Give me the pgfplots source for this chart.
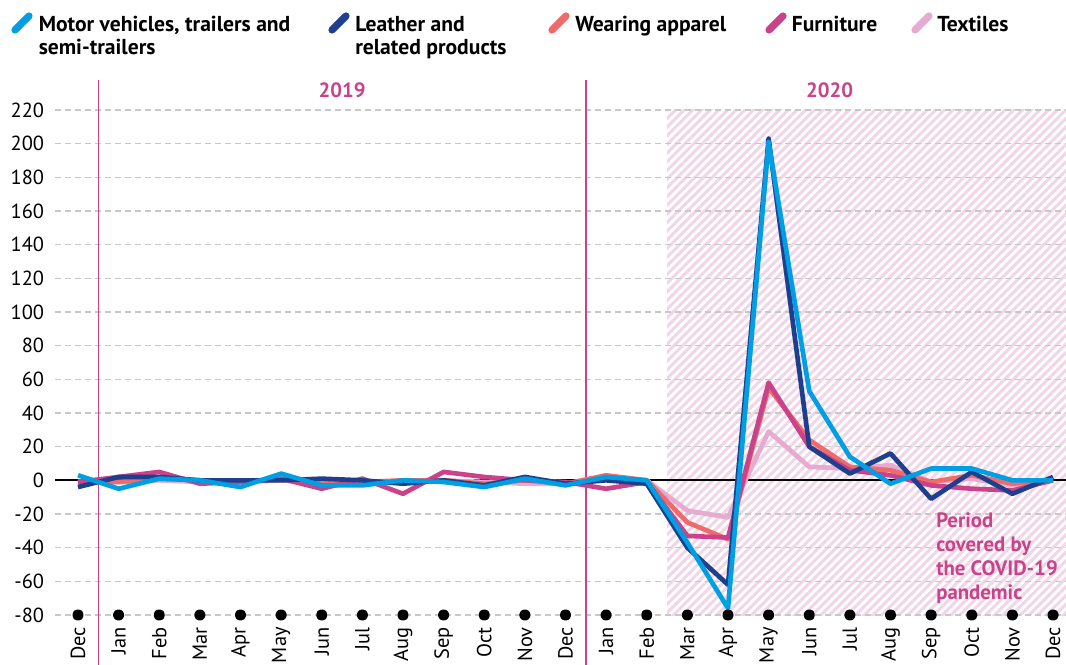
\documentclass[border=0pt]{standalone}
\usepackage{pgfplots}
\pgfplotsset{compat=1.18}
\usepackage{pgfplotstable}
\usepackage{fontspec}
\setmainfont{PT Sans}
\usetikzlibrary{patterns.meta}
\definecolor{motor}{HTML}{009FE3}
\definecolor{leather}{HTML}{1E3F8E}
\definecolor{apparel}{HTML}{EE6B6B}
\definecolor{furn}{HTML}{C9428A}
\definecolor{textil}{HTML}{E6ABCF}
\definecolor{hatch}{HTML}{F0D6E8}
\definecolor{gridc}{HTML}{C8C8C8}

\pgfplotstableread{
x motor leather apparel furniture textiles
0 3 -4 -1 -1 -1
1 -5 2 -1 2 -1
2 1 2 1 5 0
3 0 0 0 -2 -1
4 -4 0 -1 -1 -1
5 4 0 1 1 0
6 -3 1 -2 -5 -2
7 -3 0 -1 1 -1
8 0 -2 0 -8 -1
9 -1 0 0 5 0
10 -4 -3 -2 2 -1
11 1 2 0 0 -2
12 -3 -2 -2 -1 -2
13 2 0 3 -5 1
14 0 -2 0 -1 0
15 -37 -40 -25 -33 -18
16 -76 -62 -35 -34 -22
17 201 203 55 58 29
18 53 20 24 20 8
19 14 4 8 6 7
20 -2 16 6 3 9
21 7 -11 -1 -3 -1
22 7 5 3 -5 1
23 0 -8 -2 -6 -3
24 0 2 0 0 0
}\datatable

\pgfplotstableread{
x y
0 -80
1 -80
2 -80
3 -80
4 -80
5 -80
6 -80
7 -80
8 -80
9 -80
10 -80
11 -80
12 -80
13 -80
14 -80
15 -80
16 -80
17 -80
18 -80
19 -80
20 -80
21 -80
22 -80
23 -80
24 -80
}\dotstable

\begin{document}
\begin{tikzpicture}[x=0.75pt,y=0.75pt]
\begin{pgfinterruptboundingbox}
\begin{axis}[
  at={(41.25pt,36.75pt)}, anchor=south west,
  scale only axis, width=758.25pt, height=378.75pt,
  xmin=-0.566, xmax=24.32, ymin=-80, ymax=220,
  clip=false,
  axis line style={draw=none},
  major tick length=0pt,
  ytick={-80,-60,...,220},
  xtick={0,...,24},
  xticklabels={Dec,Jan,Feb,Mar,Apr,May,Jun,Jul,Aug,Sep,Oct,Nov,Dec,Jan,Feb,Mar,Apr,May,Jun,Jul,Aug,Sep,Oct,Nov,Dec},
  /pgf/number format/assume math mode=true,
  yticklabel style={font=\fontsize{15.3}{15.3}\selectfont, inner sep=0pt, xshift=-8pt},
  xticklabel style={font=\fontsize{15.3}{15.3}\selectfont, inner sep=0pt, yshift=-9pt, rotate=90, anchor=east},
  every axis plot/.append style={line width=3.5pt, line join=round},
]
\fill[pattern={Lines[angle=45,distance=4.6pt,line width=2.3pt]}, pattern color=hatch] (14.5,-80) rectangle (24.32,220);
\pgfplotsinvokeforeach{-80,-60,...,220}{
  \draw[gridc, line width=1.1pt, dash pattern=on 4.5pt off 3pt] (-0.566,#1) -- (24.32,#1);
}
\draw[black, line width=1.6pt] (-0.566,0) -- (24.32,0);
\draw[furn, line width=1.1pt] (0.5,238) -- (0.5,-120);
\draw[furn, line width=1.1pt] (12.5,238) -- (12.5,-120);
\node[font=\fontsize{15.5}{15.5}\selectfont\bfseries, text=furn] at (6.5,231.5) {2019};
\node[font=\fontsize{15.5}{15.5}\selectfont\bfseries, text=furn] at (18.5,231.5) {2020};
\addplot[only marks, mark=*, mark size=2.5pt, black] table[x=x,y=y]{\dotstable};
\addplot[textil] table[x=x,y=textiles]{\datatable};
\addplot[apparel] table[x=x,y=apparel]{\datatable};
\addplot[furn] table[x=x,y=furniture]{\datatable};
\addplot[leather] table[x=x,y=leather]{\datatable};
\addplot[motor] table[x=x,y=motor]{\datatable};
\node[anchor=north west, inner sep=0pt, align=left, text=furn,
      font=\fontsize{15.6}{18}\selectfont\bfseries] at (21.12,-18.9)
      {Period\\covered by\\the COVID-19\\pandemic};
\end{axis}
% legend
\begin{scope}[line cap=round, line width=5.4pt]
\draw[motor]   (15,664-30) -- (29,664-16);
\draw[leather] (332,664-30) -- (346,664-16);
\draw[apparel] (552,664-30) -- (566,664-16);
\draw[furn]    (769,664-30) -- (783,664-16);
\draw[textil]  (915,664-30) -- (929,664-16);
\end{scope}
\begin{scope}[every node/.style={anchor=base west, inner sep=0pt, font=\fontsize{16.2}{16.2}\selectfont\bfseries}]
\node at (38.5,664-31.5) {Motor vehicles, trailers and};
\node at (38.5,664-55) {semi-trailers};
\node at (355,664-31.5) {Leather and};
\node at (355,664-55) {related products};
\node at (575,664-31.5) {Wearing apparel};
\node at (791.5,664-31.5) {Furniture};
\node at (937,664-31.5) {Textiles};
\end{scope}
\end{pgfinterruptboundingbox}
\useasboundingbox (0,0) rectangle (1066,664);
\end{tikzpicture}
\end{document}
